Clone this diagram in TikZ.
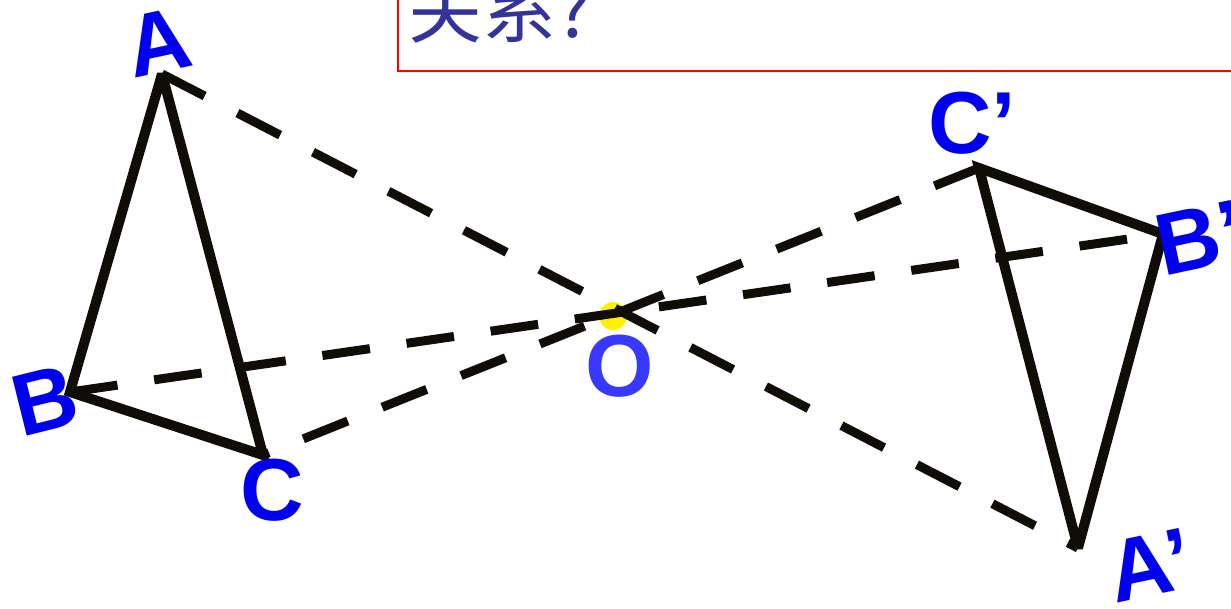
\documentclass[tikz,border=0pt]{standalone}
\usepackage{fontspec}
\setmainfont{Liberation Sans}
\newfontfamily\cjk{Noto Sans CJK SC}
\definecolor{lbl}{HTML}{0000EE}
\definecolor{olbl}{HTML}{3838FF}
\definecolor{ink}{HTML}{0F0D05}
\definecolor{cjkblue}{HTML}{333399}
\begin{document}
\begin{tikzpicture}[x=1pt,y=-1pt,
  tri/.style={ink, line width=10pt, line join=miter, miter limit=3},
  dline/.style={ink, line width=9pt, dash pattern=on 48pt off 37pt},
  vlabel/.style={lbl, font=\fontsize{88}{88}\selectfont\bfseries, inner sep=0pt}]
\useasboundingbox (0,0) rectangle (1231,608);
\clip (0,0) rectangle (1231,608);
% question box
\draw[red, line width=1.6pt] (398,-60) rectangle (1260,71);
\node[cjkblue, font=\fontsize{74}{74}\selectfont\cjk, anchor=base west, inner sep=0pt] (q) at (408,37) {关系?};
% vertices
\coordinate (A) at (162,74);
\coordinate (B) at (70,392);
\coordinate (C) at (263,455);
\coordinate (O) at (613,316);
\coordinate (A') at (1078,548);
\coordinate (B') at (1163,234);
\coordinate (C') at (979,168);
% highlight at O
\fill[yellow] (O) circle (14);
% dashed lines through O
\draw[dline] (A) -- (A');
\draw[dline] (B) -- (B');
\draw[dline] (C') -- (C);
% triangles
\draw[tri] (A) -- (B) -- (C) -- cycle;
\draw[tri] (A') -- (B') -- (C') -- cycle;
% labels
\node[vlabel, rotate=12] (lA) at (158,42) {A};
\node[vlabel, rotate=14] (lB) at (45,400) {B};
\node[vlabel] (lC) at (272,490) {C};
\node[vlabel, olbl] (lO) at (620,366) {O};
\node[vlabel] (lC') at (972,123) {C’};
\node[vlabel, rotate=12] (lB') at (1200,238) {B’};
\node[vlabel, rotate=12] (lA') at (1150,565) {A’};
\end{tikzpicture}
\end{document}
